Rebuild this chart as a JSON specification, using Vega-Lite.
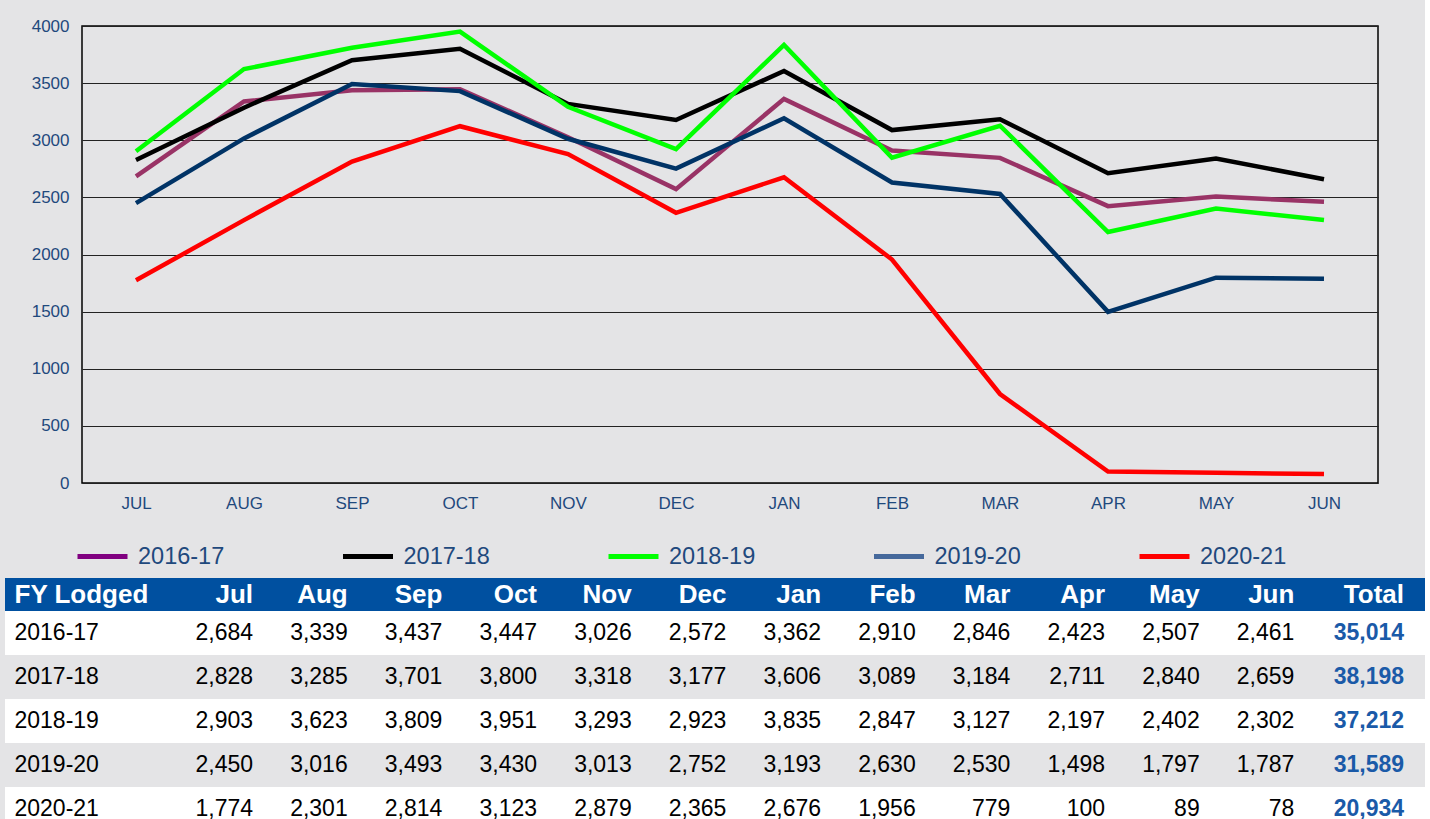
{
  "$schema": "https://vega.github.io/schema/vega-lite/v6.json",
  "background": "#e4e4e6",
  "padding": {"left": 5, "top": 16, "right": 0, "bottom": 0},
  "config": {
    "font": "Liberation Sans",
    "view": {"stroke": null},
    "axis": {"labelFont": "Liberation Sans"},
    "legend": {"labelFont": "Liberation Sans"}
  },
  "datasets": {
    "lodged": [
      {"year": "2016-17", "month": "Jul", "value": 2684},
      {"year": "2016-17", "month": "Aug", "value": 3339},
      {"year": "2016-17", "month": "Sep", "value": 3437},
      {"year": "2016-17", "month": "Oct", "value": 3447},
      {"year": "2016-17", "month": "Nov", "value": 3026},
      {"year": "2016-17", "month": "Dec", "value": 2572},
      {"year": "2016-17", "month": "Jan", "value": 3362},
      {"year": "2016-17", "month": "Feb", "value": 2910},
      {"year": "2016-17", "month": "Mar", "value": 2846},
      {"year": "2016-17", "month": "Apr", "value": 2423},
      {"year": "2016-17", "month": "May", "value": 2507},
      {"year": "2016-17", "month": "Jun", "value": 2461},
      {"year": "2017-18", "month": "Jul", "value": 2828},
      {"year": "2017-18", "month": "Aug", "value": 3285},
      {"year": "2017-18", "month": "Sep", "value": 3701},
      {"year": "2017-18", "month": "Oct", "value": 3800},
      {"year": "2017-18", "month": "Nov", "value": 3318},
      {"year": "2017-18", "month": "Dec", "value": 3177},
      {"year": "2017-18", "month": "Jan", "value": 3606},
      {"year": "2017-18", "month": "Feb", "value": 3089},
      {"year": "2017-18", "month": "Mar", "value": 3184},
      {"year": "2017-18", "month": "Apr", "value": 2711},
      {"year": "2017-18", "month": "May", "value": 2840},
      {"year": "2017-18", "month": "Jun", "value": 2659},
      {"year": "2018-19", "month": "Jul", "value": 2903},
      {"year": "2018-19", "month": "Aug", "value": 3623},
      {"year": "2018-19", "month": "Sep", "value": 3809},
      {"year": "2018-19", "month": "Oct", "value": 3951},
      {"year": "2018-19", "month": "Nov", "value": 3293},
      {"year": "2018-19", "month": "Dec", "value": 2923},
      {"year": "2018-19", "month": "Jan", "value": 3835},
      {"year": "2018-19", "month": "Feb", "value": 2847},
      {"year": "2018-19", "month": "Mar", "value": 3127},
      {"year": "2018-19", "month": "Apr", "value": 2197},
      {"year": "2018-19", "month": "May", "value": 2402},
      {"year": "2018-19", "month": "Jun", "value": 2302},
      {"year": "2019-20", "month": "Jul", "value": 2450},
      {"year": "2019-20", "month": "Aug", "value": 3016},
      {"year": "2019-20", "month": "Sep", "value": 3493},
      {"year": "2019-20", "month": "Oct", "value": 3430},
      {"year": "2019-20", "month": "Nov", "value": 3013},
      {"year": "2019-20", "month": "Dec", "value": 2752},
      {"year": "2019-20", "month": "Jan", "value": 3193},
      {"year": "2019-20", "month": "Feb", "value": 2630},
      {"year": "2019-20", "month": "Mar", "value": 2530},
      {"year": "2019-20", "month": "Apr", "value": 1498},
      {"year": "2019-20", "month": "May", "value": 1797},
      {"year": "2019-20", "month": "Jun", "value": 1787},
      {"year": "2020-21", "month": "Jul", "value": 1774},
      {"year": "2020-21", "month": "Aug", "value": 2301},
      {"year": "2020-21", "month": "Sep", "value": 2814},
      {"year": "2020-21", "month": "Oct", "value": 3123},
      {"year": "2020-21", "month": "Nov", "value": 2879},
      {"year": "2020-21", "month": "Dec", "value": 2365},
      {"year": "2020-21", "month": "Jan", "value": 2676},
      {"year": "2020-21", "month": "Feb", "value": 1956},
      {"year": "2020-21", "month": "Mar", "value": 779},
      {"year": "2020-21", "month": "Apr", "value": 100},
      {"year": "2020-21", "month": "May", "value": 89},
      {"year": "2020-21", "month": "Jun", "value": 78}
    ],
    "header": [
      {"row": "FY Lodged", "col": "Jul"},
      {"row": "FY Lodged", "col": "Aug"},
      {"row": "FY Lodged", "col": "Sep"},
      {"row": "FY Lodged", "col": "Oct"},
      {"row": "FY Lodged", "col": "Nov"},
      {"row": "FY Lodged", "col": "Dec"},
      {"row": "FY Lodged", "col": "Jan"},
      {"row": "FY Lodged", "col": "Feb"},
      {"row": "FY Lodged", "col": "Mar"},
      {"row": "FY Lodged", "col": "Apr"},
      {"row": "FY Lodged", "col": "May"},
      {"row": "FY Lodged", "col": "Jun"},
      {"row": "FY Lodged", "col": "Total"}
    ]
  },
  "spacing": 0,
  "resolve": {"scale": {"x": "independent", "y": "independent", "color": "independent", "stroke": "independent"}},
  "vconcat": [
    {
      "spacing": 0,
      "resolve": {"scale": {"x": "independent", "y": "independent", "color": "independent", "stroke": "independent"}},
      "hconcat": [
        {
          "width": 1,
          "height": 1,
          "data": {"values": []},
          "mark": "point"
        },
        {
          "width": 1296,
          "height": 457,
          "view": {"stroke": "#000000", "strokeWidth": 1.5, "fill": "#e4e4e6"},
          "data": {"name": "lodged"},
          "encoding": {
            "x": {
              "field": "month", "type": "ordinal",
              "sort": ["Jul","Aug","Sep","Oct","Nov","Dec","Jan","Feb","Mar","Apr","May","Jun"],
              "scale": {"type": "point", "padding": 0.5},
              "axis": {"title": null, "labelExpr": "upper(datum.label)", "domain": false, "ticks": false, "tickSize": 0, "grid": false, "labelAngle": 0, "labelFontSize": 17, "labelColor": "#1f497d", "labelPadding": 12}
            },
            "y": {
              "field": "value", "type": "quantitative",
              "scale": {"domain": [0, 4000], "nice": false},
              "axis": {"title": null, "format": "d", "values": [0,500,1000,1500,2000,2500,3000,3500,4000], "domain": false, "ticks": false, "tickSize": 0, "labelPadding": 13, "labelFontSize": 17, "labelColor": "#1f497d", "gridColor": "#222222", "gridWidth": 1.2, "minExtent": 75}
            }
          },
          "layer": [
            {
              "mark": {"type": "line", "opacity": 0},
              "encoding": {
                "color": {
                  "field": "year", "type": "nominal",
                  "scale": {"domain": ["2016-17","2017-18","2018-19","2019-20","2020-21"], "range": ["#800080","#000000","#00ff00","#46699c","#ff0000"]},
                  "legend": {"title": null, "orient": "none", "legendX": -16, "legendY": 494, "direction": "horizontal", "columns": 5, "symbolType": "stroke", "symbolSize": 2500, "symbolStrokeWidth": 5, "symbolOpacity": 1, "labelFontSize": 23.5, "labelColor": "#1f497d", "labelOffset": 8, "columnPadding": 107.5, "padding": 9}
                }
              }
            },
            {
              "mark": {"type": "line", "strokeWidth": 4.5},
              "encoding": {
                "stroke": {
                  "field": "year", "type": "nominal",
                  "scale": {"domain": ["2016-17","2017-18","2018-19","2019-20","2020-21"], "range": ["#993366","#000000","#00ff00","#003366","#ff0000"]},
                  "legend": null
                }
              }
            }
          ]
        }
      ]
    },
    {
      "width": 1420,
      "height": 33,
      "view": {"fill": "#0050a0", "stroke": null},
      "data": {"name": "header"},
      "encoding": {
        "y": {"field": "row", "type": "nominal", "scale": {"type": "band", "paddingInner": 0, "paddingOuter": 0},
          "axis": {"title": null, "domain": false, "ticks": false, "tickSize": 0, "labelAlign": "left", "labelPadding": -9, "labelFontSize": 26, "labelFontWeight": "bold", "labelColor": "#ffffff"}},
        "x": {"field": "col", "type": "ordinal", "bandPosition": 1,
          "scale": {"type": "band", "domain": ["Jul","Aug","Sep","Oct","Nov","Dec","Jan","Feb","Mar","Apr","May","Jun","Total"], "paddingInner": 0, "paddingOuter": 1, "align": 0.81},
          "axis": null},
        "text": {"field": "col"}
      },
      "layer": [
        {
          "transform": [{"filter": "datum.col !== 'Total'"}],
          "mark": {"type": "text", "align": "right", "baseline": "middle", "fontSize": 26, "fontWeight": "bold", "color": "#ffffff"}
        },
        {
          "transform": [{"filter": "datum.col === 'Total'"}],
          "mark": {"type": "text", "align": "right", "baseline": "middle", "fontSize": 26, "fontWeight": "bold", "color": "#ffffff", "dx": 15}
        }
      ]
    },
    {
      "width": 1420,
      "height": 220,
      "data": {"name": "lodged"},
      "encoding": {
        "y": {"field": "year", "type": "nominal", "scale": {"type": "band", "paddingInner": 0, "paddingOuter": 0},
          "axis": {"title": null, "domain": false, "ticks": false, "tickSize": 0, "labelAlign": "left", "labelPadding": -9, "labelFontSize": 23, "labelColor": "#000000"}}
      },
      "layer": [
        {
          "transform": [{"aggregate": [{"op": "sum", "field": "value", "as": "total"}], "groupby": ["year"]}],
          "layer": [
            {
              "mark": {"type": "rect"},
              "encoding": {
                "color": {"field": "year", "type": "nominal",
                  "scale": {"domain": ["2016-17","2017-18","2018-19","2019-20","2020-21"], "range": ["#ffffff","#e4e4e6","#ffffff","#e4e4e6","#ffffff"]},
                  "legend": null}
              }
            },
            {
              "mark": {"type": "text", "align": "right", "baseline": "middle", "fontSize": 23, "fontWeight": "bold", "color": "#1a5aa8", "dx": 15},
              "encoding": {
                "x": {"datum": "Total", "type": "ordinal", "bandPosition": 1,
                  "scale": {"type": "band", "domain": ["Jul","Aug","Sep","Oct","Nov","Dec","Jan","Feb","Mar","Apr","May","Jun","Total"], "paddingInner": 0, "paddingOuter": 1, "align": 0.81},
                  "axis": null},
                "text": {"field": "total", "type": "quantitative", "format": ","}
              }
            }
          ]
        },
        {
          "mark": {"type": "text", "align": "right", "baseline": "middle", "fontSize": 23, "color": "#000000"},
          "encoding": {
            "x": {"field": "month", "type": "ordinal", "bandPosition": 1,
              "scale": {"type": "band", "domain": ["Jul","Aug","Sep","Oct","Nov","Dec","Jan","Feb","Mar","Apr","May","Jun","Total"], "paddingInner": 0, "paddingOuter": 1, "align": 0.81},
              "axis": null},
            "text": {"field": "value", "type": "quantitative", "format": ","}
          }
        }
      ]
    }
  ]
}
